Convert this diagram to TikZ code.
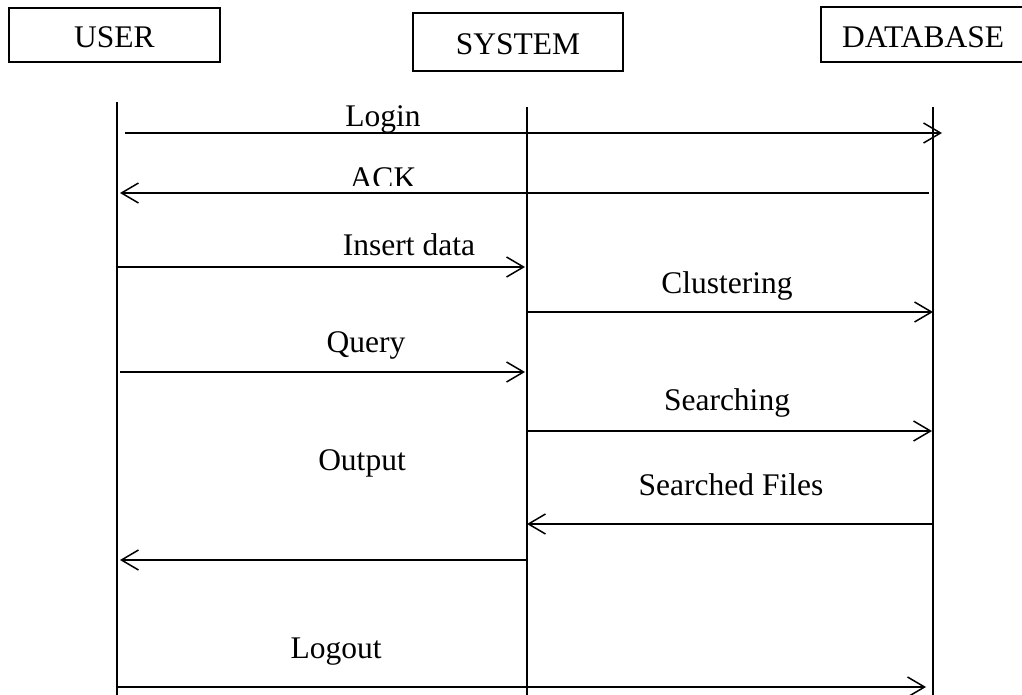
\documentclass[tikz,border=0pt]{standalone}
\usepackage{fontspec}
\setmainfont{Liberation Serif}
\usetikzlibrary{arrows.meta}
\begin{document}
\begin{tikzpicture}[x=1pt,y=-1pt,
  actor/.style={draw,line width=1.5pt,inner sep=0pt,text height=26pt,text depth=0pt,
    font=\fontsize{31.5}{36}\selectfont},
  lifeline/.style={line width=1.5pt},
  msg/.style={line width=1.5pt,-{Straight Barb[length=17pt,width=20pt]}},
  lbl/.style={anchor=base,inner sep=0pt,font=\fontsize{31.5}{36}\selectfont}]
\useasboundingbox (0,0) rectangle (1022,695);
% actors
\node[actor,minimum width=211pt,minimum height=54pt] (user) at (114.5,35) {USER};
\node[actor,minimum width=210pt,minimum height=58pt] (sys) at (518,42) {SYSTEM};
\node[actor,minimum width=204pt,minimum height=55pt] (db) at (923,34.5) {DATABASE};
% lifelines
\coordinate (uT) at (117,102); \coordinate (uB) at (117,697);
\coordinate (sT) at (527,107); \coordinate (sB) at (527,697);
\coordinate (dT) at (933,107); \coordinate (dB) at (933,697);
\draw[lifeline] (uT) -- (uB);
\draw[lifeline] (sT) -- (sB);
\draw[lifeline] (dT) -- (dB);
% message end points
\coordinate (m1a) at (125,133); \coordinate (m1b) at (942,133);
\coordinate (m2a) at (929,193); \coordinate (m2b) at (120,193);
\coordinate (m3a) at (118,267); \coordinate (m3b) at (525,267);
\coordinate (m4a) at (526,312); \coordinate (m4b) at (933,312);
\coordinate (m5a) at (120,372); \coordinate (m5b) at (525,372);
\coordinate (m6a) at (526,431); \coordinate (m6b) at (932,431);
\coordinate (m7a) at (933,524); \coordinate (m7b) at (527,524);
\coordinate (m8a) at (528,560); \coordinate (m8b) at (120,560);
\coordinate (m9a) at (117,687); \coordinate (m9b) at (926,687);
\draw[msg] (m1a) -- (m1b);
\draw[msg] (m2a) -- (m2b);
\draw[msg] (m3a) -- (m3b);
\draw[msg] (m4a) -- (m4b);
\draw[msg] (m5a) -- (m5b);
\draw[msg] (m6a) -- (m6b);
\draw[msg] (m7a) -- (m7b);
\draw[msg] (m8a) -- (m8b);
\draw[msg] (m9a) -- (m9b);
% labels
\node[lbl] (lLogin) at (383,127) {Login};
\begin{scope}
  \clip (300,150) rectangle (470,186);
  \node[lbl] (lAck) at (383,189) {ACK};
\end{scope}
\node[lbl] (lIns) at (409,255) {Insert data};
\node[lbl] (lClu) at (727,293) {Clustering};
\node[lbl] (lQry) at (366,352) {Query};
\node[lbl] (lSea) at (727,410) {Searching};
\node[lbl] (lOut) at (362,470) {Output};
\node[lbl] (lSF) at (731,495) {Searched Files};
\node[lbl] (lLog) at (336,658) {Logout};
\end{tikzpicture}
\end{document}
